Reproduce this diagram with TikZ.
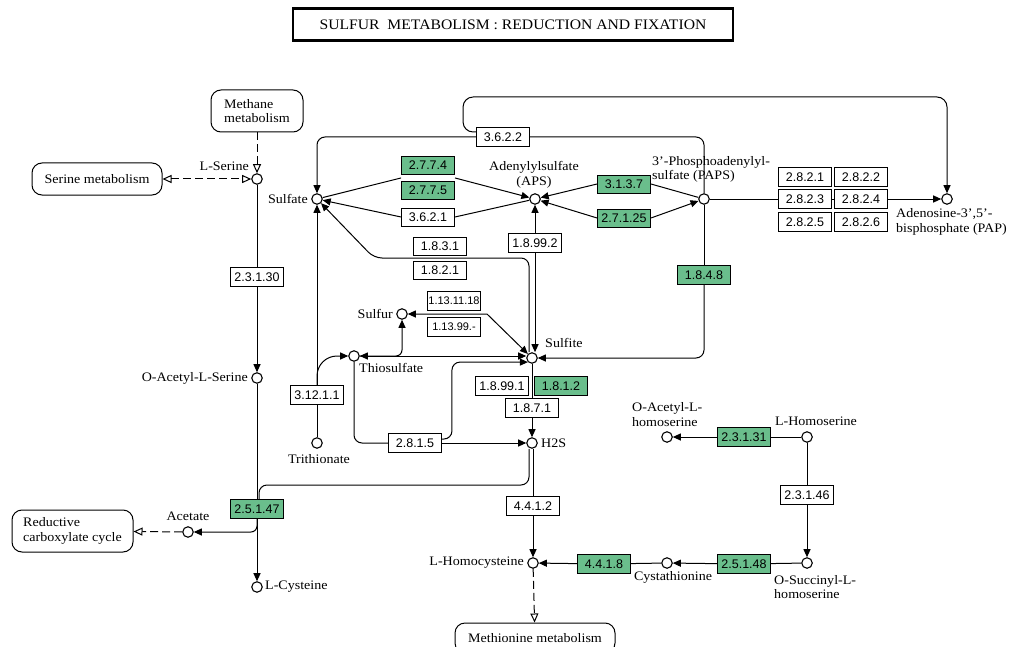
\documentclass[tikz,border=0pt]{standalone}
\usepackage{fontspec}
\setmainfont{Liberation Serif}[FakeStretch=1.08]
\newfontfamily\ecfont{Liberation Sans}
\usetikzlibrary{arrows.meta,calc}

\definecolor{ecgreen}{RGB}{106,190,140}

\tikzset{
  cpd/.style={circle, draw, fill=white, line width=1.1pt, minimum size=10.5pt, inner sep=0pt},
  ec/.style={draw, fill=white, line width=0.9pt, font=\ecfont\fontsize{12.5}{12.5}\selectfont,
    minimum width=53pt, minimum height=19pt, inner sep=1pt},
  ecg/.style={ec, fill=ecgreen},
  txt/.style={font=\fontsize{13}{14.5}\selectfont, inner sep=0pt},
  mapbox/.style={draw, rounded corners=10pt, line width=1pt, font=\fontsize{13}{14.5}\selectfont, align=left},
  rxn/.style={line width=1pt},
  arr/.style={-{Triangle[length=8pt,width=7pt]}},
  arrtwo/.style={{Triangle[length=8pt,width=7pt]}-{Triangle[length=8pt,width=7pt]}},
  maplink/.style={line width=1pt, dash pattern=on 8pt off 4pt, -{Triangle[open,length=9pt,width=8pt]}},
  maplinktwo/.style={line width=1pt, dash pattern=on 8pt off 4pt,
    {Triangle[open,length=9pt,width=8pt]}-{Triangle[open,length=9pt,width=8pt]}}
}

\begin{document}
\begin{tikzpicture}[x=1pt,y=-1pt]
\useasboundingbox (0,0) rectangle (1011,647);

% title
\node[draw, line width=2.5pt, minimum width=440pt, minimum height=32pt, font=\fontsize{14.5}{16}\selectfont]
  (title) at (513,24.5) {SULFUR\ \ METABOLISM : REDUCTION AND FIXATION};

% linked pathway maps
\node[mapbox, minimum width=92pt, minimum height=42pt] (methane) at (257,111) {Methane\\metabolism};
\node[mapbox, minimum width=130pt, minimum height=32pt] (serinemap) at (97,179) {Serine metabolism};
\node[mapbox, minimum width=121pt, minimum height=42pt] (redcarb) at (72.5,531) {Reductive\\carboxylate cycle};
\node[mapbox, minimum width=160pt, minimum height=30pt] (methmap) at (535,638) {Methionine metabolism};

% compounds
\node[cpd] (serine) at (257,179) {};
\node[cpd] (oacser) at (257,378) {};
\node[cpd] (acetate) at (188,532) {};
\node[cpd] (cys) at (257,587) {};
\node[cpd] (sulfate) at (317,199) {};
\node[cpd] (aps) at (535,199) {};
\node[cpd] (paps) at (704,199) {};
\node[cpd] (pap) at (947,199) {};
\node[cpd] (sulfur) at (402,314) {};
\node[cpd] (thio) at (354,356) {};
\node[cpd] (sulfite) at (532,358) {};
\node[cpd] (trithio) at (317,443) {};
\node[cpd] (h2s) at (532,443) {};
\node[cpd] (hcys) at (533,563) {};
\node[cpd] (cysta) at (667,563) {};
\node[cpd] (osuc) at (807,563) {};
\node[cpd] (hser) at (807,437) {};
\node[cpd] (oachser) at (667,437) {};

% compound names
\node[txt, anchor=east] (serinelbl) at (249,166) {L-Serine};
\node[txt, anchor=east] (oacserlbl) at (248,378) {O-Acetyl-L-Serine};
\node[txt] (acetatelbl) at (188,516) {Acetate};
\node[txt, anchor=west] (cyslbl) at (265,587) {L-Cysteine};
\node[txt, anchor=east] (sulfatelbl) at (308,199) {Sulfate};
\node[txt, align=center] (apslbl) at (534,175) {Adenylylsulfate\\(APS)};
\node[txt, align=left, anchor=west] (papslbl) at (652,169.5) {3'-Phosphoadenylyl-\\sulfate (PAPS)};
\node[txt, align=left, anchor=west] (paplbl) at (896,222) {Adenosine-3',5'-\\bisphosphate (PAP)};
\node[txt, anchor=east] (sulfurlbl) at (393,314) {Sulfur};
\node[txt, anchor=west] (thiolbl) at (359,368) {Thiosulfate};
\node[txt, anchor=west] (sulfitelbl) at (545,343) {Sulfite};
\node[txt] (trithiolbl) at (319,459) {Trithionate};
\node[txt, anchor=west] (h2slbl) at (541,443) {H2S};
\node[txt, anchor=east] (hcyslbl) at (524,563) {L-Homocysteine};
\node[txt] (cystalbl) at (673,577) {Cystathionine};
\node[txt, align=left, anchor=west] (osuclbl) at (774,587) {O-Succinyl-L-\\homoserine};
\node[txt] (hserlbl) at (816,421) {L-Homoserine};
\node[txt, align=left, anchor=west] (oachserlbl) at (632,414.5) {O-Acetyl-L-\\homoserine};

% enzymes
\node[ec] (e23130) at (257,277) {2.3.1.30};
\node[ecg] (e25147) at (257,509) {2.5.1.47};
\node[ec] (e3622) at (503,137) {3.6.2.2};
\node[ecg, minimum height=18pt] (e2774) at (428,165) {2.7.7.4};
\node[ecg, minimum height=18pt] (e2775) at (428,190) {2.7.7.5};
\node[ec, minimum height=18pt] (e3621) at (428,217) {3.6.2.1};
\node[ecg, minimum height=18pt] (e3137) at (624,184) {3.1.3.7};
\node[ecg, minimum height=18pt] (e27125) at (624,218) {2.7.1.25};
\node[ec] (e18992) at (535,243) {1.8.99.2};
\node[ec, minimum height=18pt] (e1831) at (440,246) {1.8.3.1};
\node[ec, minimum height=18pt] (e1821) at (440,270) {1.8.2.1};
\node[ecg] (e1848) at (704,275) {1.8.4.8};
\node[ec] (e2821) at (805,177) {2.8.2.1};
\node[ec] (e2822) at (861,177) {2.8.2.2};
\node[ec] (e2823) at (805,199) {2.8.2.3};
\node[ec] (e2824) at (861,199) {2.8.2.4};
\node[ec] (e2825) at (805,222) {2.8.2.5};
\node[ec] (e2826) at (861,222) {2.8.2.6};
\node[ec, inner sep=0pt, font=\ecfont\fontsize{11}{11}\selectfont] (e1131118) at (454,301) {1.13.11.18};
\node[ec, font=\ecfont\fontsize{11}{11}\selectfont] (e11399) at (454,327) {1.13.99.-};
\node[ec] (e31211) at (317,395) {3.12.1.1};
\node[ec] (e2815) at (415,443) {2.8.1.5};
\node[ec] (e18991) at (502,386) {1.8.99.1};
\node[ecg] (e1812) at (561,386) {1.8.1.2};
\node[ec] (e1871) at (532,408) {1.8.7.1};
\node[ec] (e4412) at (533,506) {4.4.1.2};
\node[ecg] (e4418) at (604,564) {4.4.1.8};
\node[ecg] (e25148) at (744,564) {2.5.1.48};
\node[ec] (e23146) at (807,495) {2.3.1.46};
\node[ecg] (e23131) at (744,437) {2.3.1.31};

% bends
\coordinate (loopl) at (465,97);
\coordinate (s2bend) at (374,258);
\coordinate (hsbend) at (259,485);

% serine and cysteine
\draw[maplink] (methane) -- (serine);
\draw[maplinktwo] (serinemap) -- (serine);
\draw[rxn] (serine) -- (e23130);
\draw[rxn, arr] (e23130) -- (oacser);
\draw[rxn] (oacser) -- (e25147);
\draw[rxn, arr] (e25147) -- (cys);
\draw[rxn, arr, rounded corners=6pt] (e25147.south) |- (acetate);
\draw[maplink] (acetate) -- (redcarb);
\draw[rxn, rounded corners=8pt] ([xshift=-3pt]h2s.south) |- (hsbend) -- (hsbend |- e25147.north);

% sulfate activation
\draw[rxn, arr, rounded corners=8pt] (e3622) -| (sulfate);
\draw[rxn, rounded corners=8pt] (e3622) -| (paps);
\draw[rxn, arr, rounded corners=10pt] ([yshift=5pt]e3622.west) -- ++(-13,0) |- (pap |- loopl) -- (pap);
\draw[rxn] (sulfate) -- ([yshift=-3.5pt]e2774.south west);
\draw[rxn, arr] ([yshift=-3.5pt]e2774.south east) -- (aps);
\draw[rxn] (aps) -- (e3621.east);
\draw[rxn, arr] (e3621.west) -- (sulfate);
\draw[rxn] (paps) -- (e3137.east);
\draw[rxn, arr] (e3137.west) -- (aps);
\draw[rxn, arr] (e27125.west) -- (aps);
\draw[rxn, arr] (e27125.east) -- (paps);
\draw[rxn] (paps) -- (e2823);
\draw[rxn] (e2823) -- (e2824);
\draw[rxn, arr] (e2824) -- (pap);

% reduction
\draw[rxn] (paps) -- (e1848);
\draw[rxn, arr, rounded corners=8pt] (e1848) |- (sulfite);
\draw[rxn, arr] (e18992) -- (aps);
\draw[rxn, arr] (e18992) -- ([xshift=3pt]sulfite.north);
\draw[rxn, arr, rounded corners=8pt] ([xshift=-3pt]sulfite.north) |- (s2bend) -- (sulfate);
\draw[rxn, arrtwo] (sulfur) -- (487,314) -- (sulfite);
\draw[rxn, arrtwo] (thio) -- (thio -| sulfite.west);
\draw[rxn, arr, rounded corners=6pt] (thio) -| (sulfur);
\draw[rxn] (trithio) -- (e31211);
\draw[rxn, arr] (e31211) -- (sulfate);
\draw[rxn, arr, rounded corners=20pt] (e31211.north) |- (thio);
\draw[rxn, rounded corners=8pt] (thio) |- (e2815);
\draw[rxn, arr] (e2815) -- (h2s);
\draw[rxn, arr, rounded corners=8pt] ([yshift=4pt]e2815.east) -- ++(10,0) |- (sulfite.south west);
\draw[rxn] (sulfite) -- (e1871);
\draw[rxn, arr] (e1871) -- (h2s);

% homocysteine
\draw[rxn] (h2s.south -| e4412) -- (e4412);
\draw[rxn, arr] (e4412) -- (hcys);
\draw[maplink] (hcys) -- (methmap);
\draw[rxn] (cysta) -- (e4418);
\draw[rxn, arr] (e4418) -- (hcys);
\draw[rxn] (osuc) -- (e25148);
\draw[rxn, arr] (e25148) -- (cysta);
\draw[rxn] (hser) -- (e23146);
\draw[rxn, arr] (e23146) -- (osuc);
\draw[rxn] (hser) -- (e23131);
\draw[rxn, arr] (e23131) -- (oachser);
\end{tikzpicture}
\end{document}
